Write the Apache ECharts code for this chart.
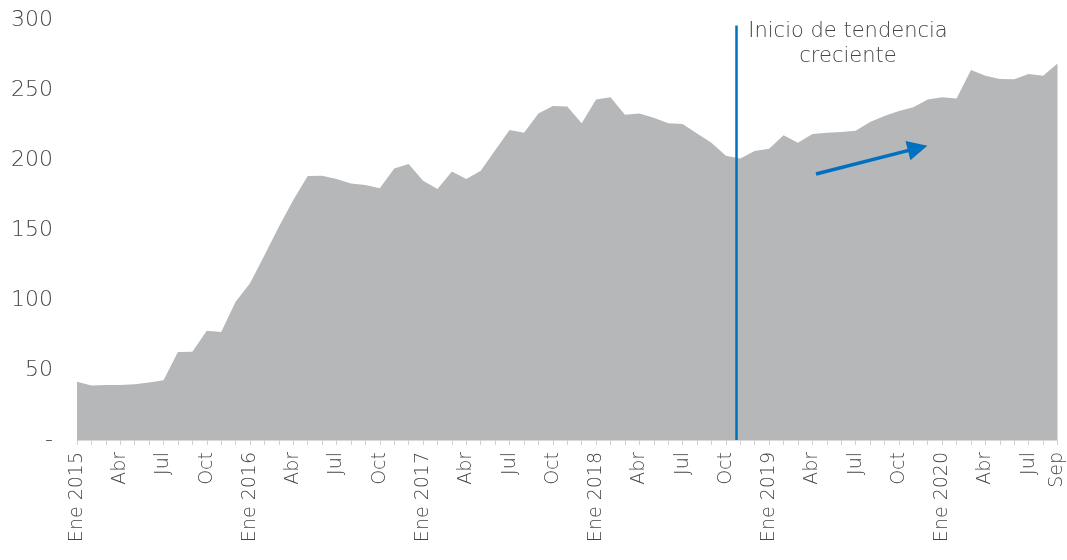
<!DOCTYPE html>
<html>
<head>
<meta charset="utf-8">
<script src="https://cdn.jsdelivr.net/npm/echarts@6/dist/echarts.min.js"></script>
<style>html,body{margin:0;padding:0;background:#fff}#c{width:1067px;height:560px}</style>
</head>
<body>
<div id="c"></div>
<script>
var monthNames = ['Ene','Feb','Mar','Abr','May','Jun','Jul','Ago','Sep','Oct','Nov','Dic'];
var years = [2015, 2016, 2017, 2018, 2019, 2020];
var lastMonthIndex2020 = 8; // Sep 2020
var values = [41.6, 39, 39.3, 39.3, 39.8, 41, 42.6, 62.9, 63, 78.1,
  77.1, 98.8, 111.9, 132, 152.4, 171.4, 188.6, 188.8, 186.4, 183.3,
  182.1, 179.8, 194, 197.1, 185.2, 179.3, 191.7, 186.4, 192.4, 207,
  221.4, 219.5, 233.3, 238.6, 238.3, 226.2, 243.3, 244.8, 232.4, 233.3,
  230.2, 226.2, 225.7, 219, 212.4, 203.1, 201, 206.4, 208.1, 217.6,
  212.4, 218.6, 219.5, 220, 220.9, 227.1, 231.4, 235, 237.6, 243.3,
  244.8, 244, 264.3, 260.2, 257.9, 257.6, 261.4, 260.2, 269];
var yTicks = [0, 50, 100, 150, 200, 250, 300];
var trendStartIndex = 45.75;   // vertical marker, between Oct and Nov 2018
var trendLineTop = 296;
var arrowFrom = [51.25, 190];
var arrowTo = [58.3, 208.5];
var annotationLines = ['Inicio de tendencia', 'creciente'];

var categories = [];
years.forEach(function (y) {
  for (var m = 0; m < 12; m++) {
    if (y === 2020 && m > lastMonthIndex2020) break;
    categories.push(m === 0 ? monthNames[m] + ' ' + y : monthNames[m] + '|' + y);
  }
});
var lastIdx = categories.length - 1;

var chart = echarts.init(document.getElementById('c'));
var font = '"DejaVu Sans", "Open Sans", sans-serif';
var txt = '#454545';
chart.setOption({
  animation: false,
  grid: { left: 77, right: 8, top: 20, bottom: 120, containLabel: false },
  xAxis: [{
    type: 'category',
    data: categories,
    boundaryGap: false,
    axisLine: { show: true, lineStyle: { color: '#d9d9d9', width: 1 } },
    axisTick: { show: true, interval: 0, length: 5, lineStyle: { color: '#d0d0d0' } },
    axisLabel: {
      rotate: 90,
      interval: function (i) { return i % 3 === 0 || i === lastIdx; },
      formatter: function (v) { return v.split('|')[0]; },
      color: txt, fontSize: 19, fontWeight: 200, fontFamily: font, margin: 12
    },
    splitLine: { show: false }
  }, {
    type: 'value', min: 0, max: lastIdx, show: false
  }],
  yAxis: {
    type: 'value', min: yTicks[0], max: yTicks[yTicks.length - 1], interval: 50,
    axisLine: { show: false }, axisTick: { show: false }, splitLine: { show: false },
    axisLabel: {
      color: txt, fontSize: 22, fontWeight: 200, fontFamily: font, margin: 24,
      formatter: function (v) { return v === 0 ? '-' : String(v); }
    }
  },
  series: [{
    type: 'line',
    data: values,
    symbol: 'none',
    lineStyle: { width: 0 },
    itemStyle: { color: '#b6b7b9' },
    areaStyle: { color: '#b6b7b9', opacity: 1 }
  }, {
    type: 'lines',
    coordinateSystem: 'cartesian2d',
    xAxisIndex: 1,
    yAxisIndex: 0,
    symbol: ['none', 'none'],
    lineStyle: { color: '#0070c0', width: 2.5, opacity: 1 },
    data: [{ coords: [[trendStartIndex, 0], [trendStartIndex, trendLineTop]] }],
    z: 5
  }, {
    type: 'lines',
    coordinateSystem: 'cartesian2d',
    xAxisIndex: 1,
    yAxisIndex: 0,
    symbol: ['none', 'triangle'],
    symbolSize: [17, 20],
    lineStyle: { color: '#0070c0', width: 3.5, opacity: 1 },
    data: [{ coords: [arrowFrom, arrowTo] }],
    z: 5
  }],
  graphic: annotationLines.map(function (t, k) {
    return {
      type: 'text', x: 848, y: 32 + k * 25,
      style: { text: t, align: 'center', verticalAlign: 'middle',
        fill: txt, font: '200 21px ' + font }
    };
  })
});
</script>
</body>
</html>
